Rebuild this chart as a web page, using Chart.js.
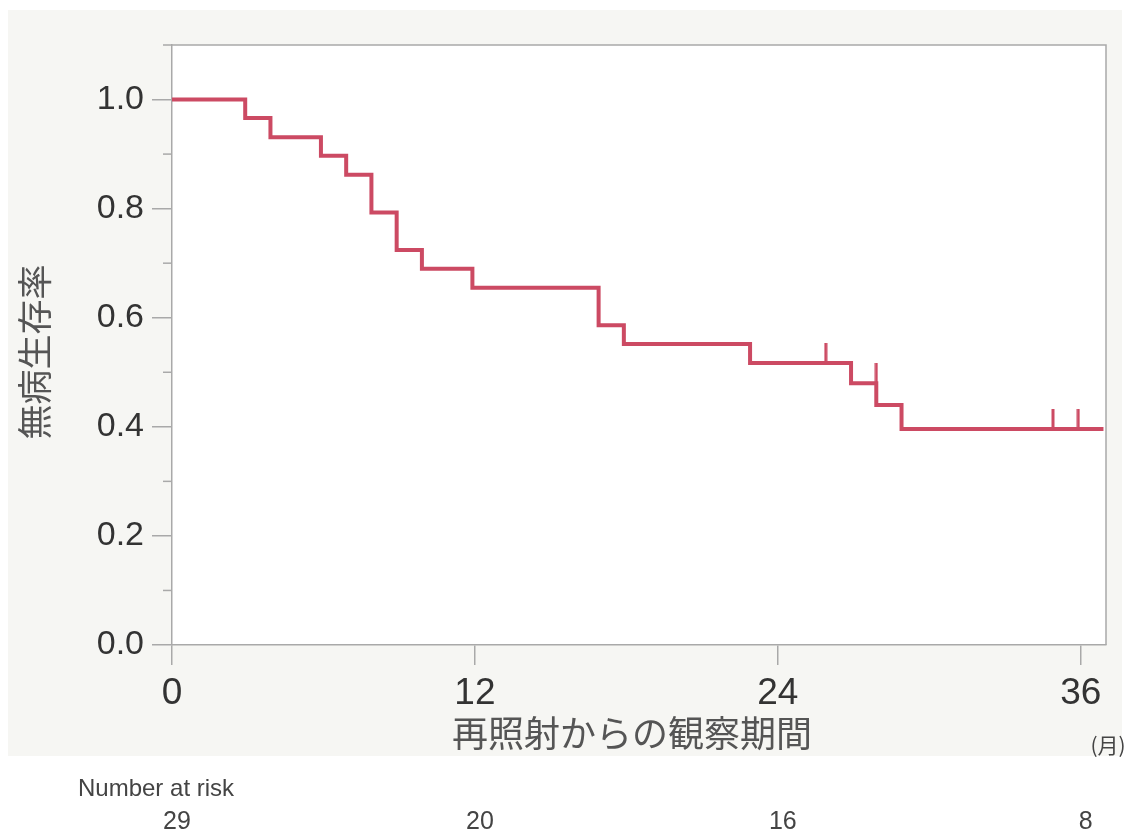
<!DOCTYPE html>
<html>
<head>
<meta charset="utf-8">
<script src="https://cdn.jsdelivr.net/npm/chart.js@4.4.1/dist/chart.umd.min.js"></script>
<style>
  html, body { margin: 0; padding: 0; background: #ffffff; }
  #wrap { width: 1137px; height: 836px; position: relative; }
</style>
</head>
<body>
<div id="wrap"><canvas id="km"></canvas></div>
<script>
// ---- data ----
const tiempos = [0, 2.9, 3.9, 5.9, 6.9, 7.9, 8.9, 9.9, 11.9, 16.9, 17.9, 22.9, 26.9, 27.9, 28.9, 36.9];
const supervivencia = [1.0, 0.966, 0.931, 0.897, 0.862, 0.793, 0.724, 0.690, 0.655, 0.586, 0.552, 0.517, 0.480, 0.440, 0.396, 0.396];

const censTiempos = [25.9, 27.9, 34.9, 35.9];
const censValores = [0.517, 0.480, 0.396, 0.396];

const xTicks = [0, 12, 24, 36];
const yTicks = [0, 0.2, 0.4, 0.6, 0.8, 1.0];
const yMinor = [0.1, 0.3, 0.5, 0.7, 0.9, 1.1];
const enRiesgo = [29, 20, 16, 8];

const tituloY = '無病生存率';
const tituloX = '再照射からの観察期間';
const unidadX = '(月)';
const tituloRiesgo = 'Number at risk';

const ROJO = '#cc4a63';
const GRIS = '#a9a9a9';
const FUENTE = '"Liberation Sans", Arial, sans-serif';

// marca de censura: linea vertical solo hacia arriba
function marcaCensura() {
    const c = document.createElement('canvas');
    c.width = 4; c.height = 40;
    const g = c.getContext('2d');
    g.fillStyle = ROJO;
    g.fillRect(0.5, 0, 3, 21);
    return c;
}

// fondo gris, area blanca y marco
const fondo = {
    id: 'fondo',
    beforeDraw(chart) {
        const ctx = chart.ctx, a = chart.chartArea;
        ctx.save();
        ctx.fillStyle = '#f6f6f3';
        ctx.fillRect(8, 10, 1114, 746);
        ctx.fillStyle = '#ffffff';
        ctx.fillRect(a.left, a.top, a.right - a.left, a.bottom - a.top);
        ctx.restore();
    },
    afterDraw(chart) {
        const ctx = chart.ctx, a = chart.chartArea;
        const y = chart.scales.y, x = chart.scales.x;
        ctx.save();
        ctx.strokeStyle = GRIS;
        ctx.lineWidth = 1.5;
        ctx.beginPath();
        ctx.moveTo(a.left, a.top); ctx.lineTo(a.right, a.top); ctx.lineTo(a.right, a.bottom);
        ctx.stroke();
        // ticks menores
        yMinor.forEach(function (v) {
            const py = y.getPixelForValue(v);
            ctx.beginPath();
            ctx.moveTo(a.left - 9, py); ctx.lineTo(a.left, py);
            ctx.stroke();
        });
        // textos
        ctx.fillStyle = '#555555';
        ctx.textAlign = 'center';
        ctx.textBaseline = 'middle';
        ctx.font = '36px "Noto Sans CJK JP"';
        ctx.fillText(tituloX, 632, 733);
        ctx.save();
        ctx.translate(35, 352);
        ctx.rotate(-Math.PI / 2);
        ctx.font = '35px "Noto Sans CJK JP"';
        ctx.fillText(tituloY, 0, 0);
        ctx.restore();
        ctx.font = '21px "Noto Sans CJK JP"';
        ctx.fillStyle = '#444444';
        ctx.fillText(unidadX, 1108, 745);
        ctx.font = '24px "Liberation Sans", sans-serif';
        ctx.textAlign = 'left';
        ctx.fillText(tituloRiesgo, 78, 789);
        ctx.font = '25px "Liberation Sans", sans-serif';
        ctx.textAlign = 'center';
        enRiesgo.forEach(function (n, i) {
            ctx.fillText(String(n), x.getPixelForValue(xTicks[i]) + 5, 822);
        });
        ctx.restore();
    }
};

const lineaKM = tiempos.map(function (t, i) { return { x: t, y: supervivencia[i] }; });
const puntosCens = censTiempos.map(function (t, i) { return { x: t, y: censValores[i] }; });

const configKM = {
    type: 'line',
    data: {
        datasets: [{
            label: 'KM',
            data: lineaKM,
            borderColor: ROJO,
            borderWidth: 4,
            stepped: 'before',
            pointRadius: 0,
            fill: false
        }, {
            label: 'censura',
            data: puntosCens,
            showLine: false,
            pointStyle: marcaCensura(),
            pointRadius: 10,
            pointHoverRadius: 10
        }]
    },
    options: {
        responsive: false,
        animation: false,
        layout: { padding: { top: 45, right: 31, left: 0, bottom: 0 } },
        plugins: {
            legend: { display: false },
            tooltip: { enabled: false },
            title: { display: false }
        },
        scales: {
            x: {
                type: 'linear',
                min: 0,
                max: 37,
                afterFit: function (s) { s.height = 191; },
                afterBuildTicks: function (s) { s.ticks = xTicks.map(function (v) { return { value: v }; }); },
                grid: { drawOnChartArea: false, drawTicks: true, tickLength: 20, color: GRIS, tickColor: GRIS, lineWidth: 1.5 },
                border: { display: true, color: GRIS, width: 1.5 },
                ticks: {
                    padding: 7,
                    color: '#333333',
                    font: { family: FUENTE, size: 37 },
                    maxRotation: 0
                }
            },
            y: {
                min: 0,
                max: 1.1,
                afterFit: function (s) { s.width = 172; },
                afterBuildTicks: function (s) { s.ticks = yTicks.map(function (v) { return { value: v }; }); },
                grid: { drawOnChartArea: false, drawTicks: true, tickLength: 20, color: GRIS, tickColor: GRIS, lineWidth: 1.5 },
                border: { display: true, color: GRIS, width: 1.5 },
                ticks: {
                    padding: 8,
                    color: '#333333',
                    font: { family: FUENTE, size: 34 },
                    callback: function (v) { return Number(v).toFixed(1); }
                }
            }
        }
    },
    plugins: [fondo]
};

const lienzo = document.getElementById('km');
lienzo.width = 1137;
lienzo.height = 836;
new Chart(lienzo, configKM);
</script>
</body>
</html>
